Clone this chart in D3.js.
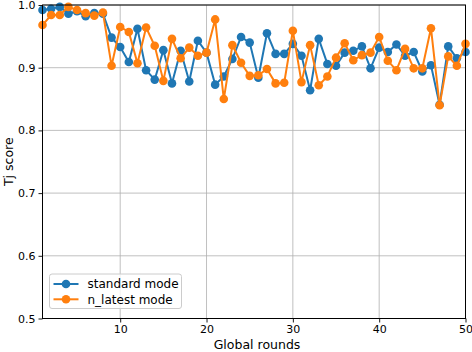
<!DOCTYPE html>
<html>
<head>
<meta charset="utf-8">
<script src="https://cdn.jsdelivr.net/npm/d3@7"></script>
<style>
  body { margin: 0; background: #fff; }
  svg { font-family: "DejaVu Sans", sans-serif; }
  .grid line { stroke: #b0b0b0; stroke-width: 0.8; }
</style>
</head>
<body>
<div id="chart"></div>
<script>
// global rounds 1..50
var rounds = d3.range(1, 51);

var standardMode = [0.992, 0.994, 0.997, 0.986, 0.99, 0.982, 0.987, 0.986, 0.948, 0.933,
  0.909, 0.962, 0.896, 0.881, 0.928, 0.875, 0.927, 0.878, 0.943, 0.924,
  0.873, 0.886, 0.914, 0.949, 0.940, 0.884, 0.955, 0.922, 0.922, 0.938,
  0.919, 0.864, 0.946, 0.906, 0.903, 0.924, 0.927, 0.934, 0.899, 0.932,
  0.925, 0.937, 0.919, 0.925, 0.894, 0.904, 0.841, 0.934, 0.915, 0.925];

var nLatestMode = [0.968, 0.984, 0.984, 0.997, 0.992, 0.987, 0.983, 0.988, 0.903, 0.965,
  0.957, 0.907, 0.964, 0.935, 0.879, 0.946, 0.915, 0.932, 0.919, 0.924,
  0.977, 0.850, 0.936, 0.908, 0.887, 0.888, 0.898, 0.875, 0.876, 0.959,
  0.877, 0.936, 0.872, 0.886, 0.916, 0.939, 0.912, 0.920, 0.924, 0.949,
  0.911, 0.896, 0.930, 0.899, 0.899, 0.963, 0.840, 0.918, 0.903, 0.938];

var seriesNames = ["standard mode", "n_latest mode"];
var seriesColors = ["#1f77b4", "#ff7f0e"];
var xTicks = [10, 20, 30, 40, 50];
var yTicks = [0.5, 0.6, 0.7, 0.8, 0.9, 1.0];

var W = 472, H = 352;
var margin = {top: 5, right: 6.5, bottom: 33.5, left: 42.5},
  width = W - margin.left - margin.right,
  height = H - margin.top - margin.bottom;

var svg = d3.select("#chart").append("svg")
  .attr("width", W)
  .attr("height", H);

var g = svg.append("g")
  .attr("transform", "translate(" + margin.left + "," + margin.top + ")");

var x = d3.scaleLinear().domain([1, 50]).range([0, width]);
var y = d3.scaleLinear().domain([0.5, 1.0]).range([height, 0]);

// grid
g.append("g").attr("class", "grid")
  .selectAll("line").data(xTicks).enter().append("line")
  .attr("x1", function(d) { return x(d); }).attr("x2", function(d) { return x(d); })
  .attr("y1", 0).attr("y2", height);
g.append("g").attr("class", "grid")
  .selectAll("line").data(yTicks).enter().append("line")
  .attr("y1", function(d) { return y(d); }).attr("y2", function(d) { return y(d); })
  .attr("x1", 0).attr("x2", width);

svg.append("clipPath").attr("id", "clip").append("rect")
  .attr("x", -6).attr("y", -6).attr("width", width + 12).attr("height", height + 12);

var line = d3.line()
  .x(function(d) { return x(d[0]); })
  .y(function(d) { return y(d[1]); });

var allSeries = [standardMode, nLatestMode];
allSeries.forEach(function(vals, i) {
  var pts = rounds.map(function(r, j) { return [r, vals[j]]; });
  var s = g.append("g").attr("clip-path", "url(#clip)");
  s.append("path")
    .datum(pts)
    .attr("fill", "none")
    .attr("stroke", seriesColors[i])
    .attr("stroke-width", 2)
    .attr("d", line);
  s.selectAll("circle").data(pts).enter().append("circle")
    .attr("cx", function(d) { return x(d[0]); })
    .attr("cy", function(d) { return y(d[1]); })
    .attr("r", 4.3)
    .attr("fill", seriesColors[i]);
});

// axes
var xAxis = g.append("g")
  .attr("transform", "translate(0," + height + ")")
  .call(d3.axisBottom(x).tickValues(xTicks).tickSize(4).tickPadding(3).tickFormat(d3.format("d")));
var yAxis = g.append("g")
  .call(d3.axisLeft(y).tickValues(yTicks).tickSize(4).tickPadding(3).tickFormat(d3.format(".1f")));
[xAxis, yAxis].forEach(function(a) {
  a.select(".domain").remove();
  a.selectAll("text").attr("font-size", 11).attr("fill", "#000").attr("font-family", "DejaVu Sans");
  a.selectAll("line").attr("stroke", "#000").attr("stroke-width", 0.9);
});

// frame
g.append("rect")
  .attr("width", width).attr("height", height)
  .attr("fill", "none").attr("stroke", "#000").attr("stroke-width", 1);

// labels
svg.append("text")
  .attr("x", 257).attr("y", 348.5)
  .attr("text-anchor", "middle").attr("font-size", 12.5)
  .text("Global rounds");
svg.append("text")
  .attr("transform", "translate(13," + (margin.top + height / 2) + ") rotate(-90)")
  .attr("text-anchor", "middle").attr("font-size", 12.5)
  .text("Tj score");

// legend
var leg = svg.append("g").attr("transform", "translate(49.5,274)");
leg.append("rect")
  .attr("width", 132).attr("height", 34.5).attr("rx", 2.5)
  .attr("fill", "#fff").attr("fill-opacity", 0.8)
  .attr("stroke", "#cccccc").attr("stroke-width", 1);
seriesNames.forEach(function(name, i) {
  var ly = 10 + i * 15.3;
  leg.append("line")
    .attr("x1", 4).attr("x2", 29).attr("y1", ly).attr("y2", ly)
    .attr("stroke", seriesColors[i]).attr("stroke-width", 2);
  leg.append("circle").attr("cx", 16.5).attr("cy", ly).attr("r", 4.3).attr("fill", seriesColors[i]);
  leg.append("text").attr("x", 38).attr("y", ly + 4.3)
    .attr("font-size", 12).text(name);
});
</script>
</body>
</html>
